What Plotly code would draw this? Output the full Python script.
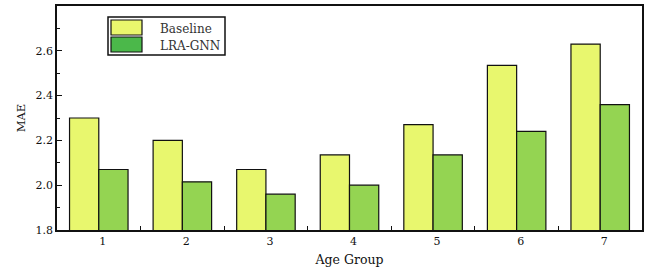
import plotly.graph_objects as go

groups = [1, 2, 3, 4, 5, 6, 7]
group_labels = ["1", "2", "3", "4", "5", "6", "7"]
baseline = [2.30, 2.20, 2.07, 2.135, 2.27, 2.535, 2.63]
lra_gnn = [2.07, 2.015, 1.96, 2.00, 2.135, 2.24, 2.36]
series_names = ["Baseline", "LRA-GNN"]
y_ticks = [1.8, 2.0, 2.2, 2.4, 2.6]
y_minor = [1.9, 2.1, 2.3, 2.5, 2.7]

BASE_COLOR = "#E8F76E"
LRA_COLOR = "#94D452"
LEG_BASE = "#EAF76D"
LEG_LRA = "#4BB84A"
FONT = "DejaVu Serif"

W, H = 646, 275
L, R, T, B = 57, 642, 6, 230

def px(x):
    return (x - L) / (R - L)

def py(y):
    return (B - y) / (B - T)

fig = go.Figure()
fig.add_trace(go.Bar(x=groups, y=baseline, name=series_names[0], marker=dict(color=BASE_COLOR, line=dict(color="#111111", width=1.2)), showlegend=False))
fig.add_trace(go.Bar(x=groups, y=lra_gnn, name=series_names[1], marker=dict(color=LRA_COLOR, line=dict(color="#111111", width=1.2)), showlegend=False))

fig.update_layout(
    width=W, height=H,
    margin=dict(l=L, r=W - R, t=T, b=H - B),
    plot_bgcolor="white", paper_bgcolor="white",
    barmode="group", bargap=0.3, bargroupgap=0,
    font=dict(family=FONT, color="#111111", size=11),
    showlegend=False,
)
fig.update_xaxes(
    range=[0.5, 7.5], tickmode="array", tickvals=groups, ticktext=group_labels,
    ticks="", ticklabelshift=4, tickfont=dict(size=11), automargin=False,
    showline=True, mirror=True, linecolor="#111111", linewidth=1.5,
    showgrid=False, zeroline=False,
    minor=dict(tickmode="array", tickvals=[1.5, 2.5, 3.5, 4.5, 5.5, 6.5], ticks="inside", ticklen=4, tickcolor="#111111", tickwidth=1.2, showgrid=False),
    title=dict(text="Age Group", font=dict(size=12.5), standoff=8),
)
fig.update_yaxes(
    range=[1.8, 2.8], tickmode="array", tickvals=y_ticks, tickformat=".1f",
    ticks="inside", ticklen=5, tickwidth=1.2, tickcolor="#111111",
    tickfont=dict(size=11), automargin=False,
    showline=True, mirror=True, linecolor="#111111", linewidth=1.5,
    showgrid=False, zeroline=False,
    minor=dict(tickmode="array", tickvals=y_minor, ticks="inside", ticklen=3, tickcolor="#111111", tickwidth=1.2, showgrid=False),
    title=dict(text="MAE", font=dict(size=11.5), standoff=8),
)

shapes = [
    dict(type="rect", xref="paper", yref="paper", x0=px(108), x1=px(225), y0=py(55), y1=py(17),
         line=dict(color="#111111", width=1.5), fillcolor="white"),
    dict(type="rect", xref="paper", yref="paper", x0=px(111), x1=px(142), y0=py(35), y1=py(20),
         line=dict(color="#111111", width=1.2), fillcolor=LEG_BASE),
    dict(type="rect", xref="paper", yref="paper", x0=px(111), x1=px(142), y0=py(52), y1=py(37),
         line=dict(color="#111111", width=1.2), fillcolor=LEG_LRA),
]
annotations = [
    dict(text=series_names[0], xref="paper", yref="paper", x=px(158), y=py(29), xanchor="left", yanchor="middle",
         showarrow=False, font=dict(size=12, family=FONT, color="#333333")),
    dict(text=series_names[1], xref="paper", yref="paper", x=px(158), y=py(46), xanchor="left", yanchor="middle",
         showarrow=False, font=dict(size=12, family=FONT, color="#333333")),
]
fig.update_layout(shapes=shapes, annotations=annotations)

fig.write_html("out.html", config={"displayModeBar": False},
               post_script="document.body.style.margin='0px';")
